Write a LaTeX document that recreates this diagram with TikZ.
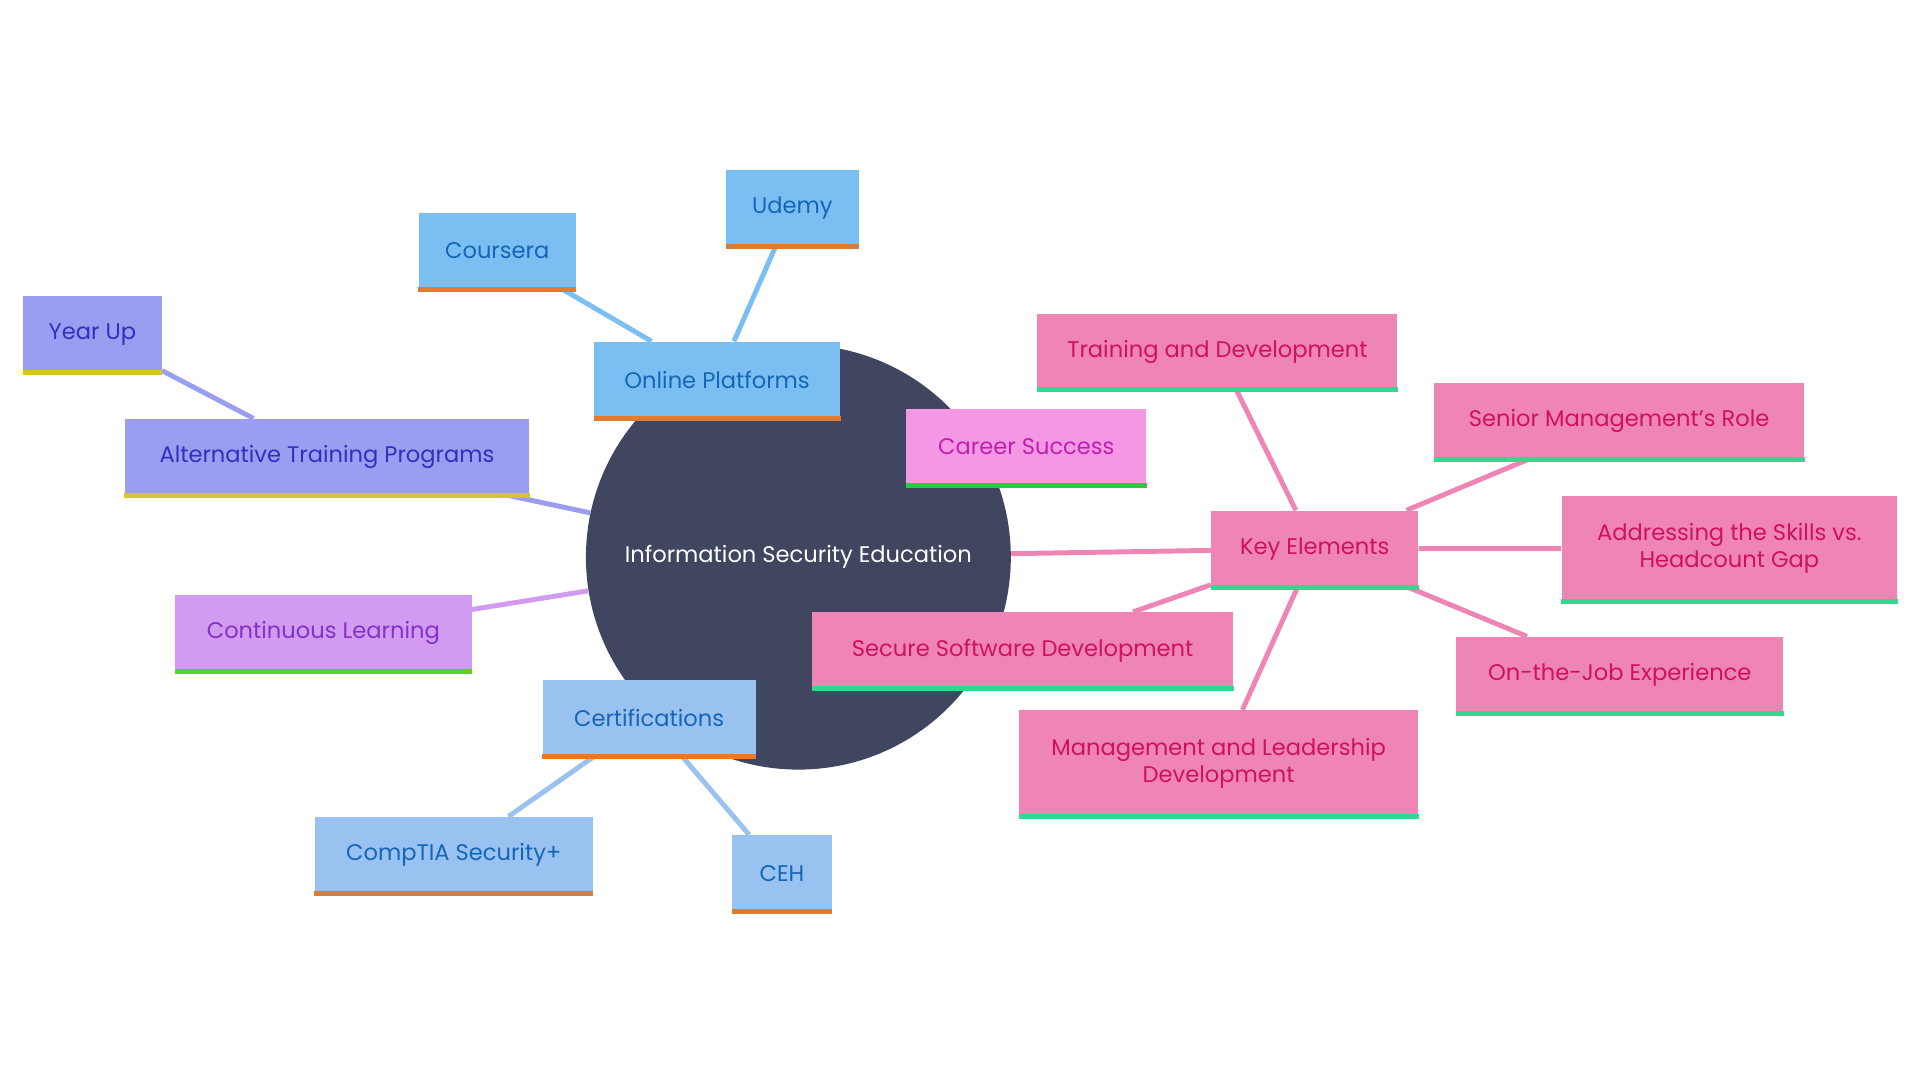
\documentclass[tikz,border=0pt]{standalone}
\usepackage{fontspec}
\setmainfont{Poppins}
\usetikzlibrary{backgrounds}
\definecolor{hub}{HTML}{404560}
\definecolor{opF}{HTML}{7BBFF2}\definecolor{opT}{HTML}{1565B8}\definecolor{orB}{HTML}{E07B30}
\definecolor{ceF}{HTML}{99C2F0}
\definecolor{alF}{HTML}{9B9EF0}\definecolor{alT}{HTML}{3030C0}\definecolor{alB}{HTML}{D4C820}
\definecolor{clF}{HTML}{D09BF0}\definecolor{clT}{HTML}{8530C8}\definecolor{clB}{HTML}{60D020}
\definecolor{csF}{HTML}{F497E4}\definecolor{csT}{HTML}{C020B0}\definecolor{csB}{HTML}{20D040}
\definecolor{keF}{HTML}{EE85B5}\definecolor{keT}{HTML}{D01060}\definecolor{keB}{HTML}{30D890}
\tikzset{
  box/.style n args={3}{fill=#1, text=#2, align=center, inner sep=0pt, font=\fontsize{10.5pt}{12.5pt}\selectfont,
    append after command={(\tikzlastnode.south west) edge[draw=#3, line width=2.3pt] (\tikzlastnode.south east)}},
  link/.style={line width=2.3pt}
}
\newcommand{\bx}[9]{\node[box={#6}{#7}{#8}, minimum width=#4*0.02cm, minimum height=#5*0.02cm] (#1) at (#2*0.02,-#3*0.02) {#9};}
\begin{document}
\begin{tikzpicture}
\useasboundingbox (0,0) rectangle (31.36,-17.64);
\node[circle, fill=hub, minimum size=6.94cm, text=white, font=\fontsize{10.5pt}{12.5pt}\selectfont] (c) at (13.04,-9.1) {Information Security Education};
\bx{op}{585.5}{310}{201}{62}{opF}{opT}{orB}{Online Platforms}
\bx{ud}{647}{170}{108}{62}{opF}{opT}{orB}{Udemy}
\bx{co}{406}{205}{128}{62}{opF}{opT}{orB}{Coursera}
\bx{yu}{75.5}{273}{113}{62}{alF}{alT}{alB}{Year Up}
\bx{al}{267}{373}{330}{62}{alF}{alT}{alB}{Alternative Training Programs}
\bx{cl}{264}{517}{242}{62}{clF}{clT}{clB}{Continuous Learning}
\bx{ce}{530}{586}{174}{62}{ceF}{opT}{orB}{Certifications}
\bx{ct}{370.5}{698}{227}{62}{ceF}{opT}{orB}{CompTIA Security+}
\bx{eh}{638.5}{713}{81}{62}{ceF}{opT}{orB}{CEH}
\bx{cs}{838}{365}{196}{62}{csF}{csT}{csB}{Career Success}
\bx{ke}{1073.5}{448}{169}{62}{keF}{keT}{keB}{Key Elements}
\bx{td}{994}{287}{294}{62}{keF}{keT}{keB}{Training and Development}
\bx{sm}{1322}{344}{302}{62}{keF}{keT}{keB}{Senior Management’s Role}
\bx{ad}{1412}{448}{274}{86}{keF}{keT}{keB}{Addressing the Skills vs.\\Headcount Gap}
\bx{oj}{1322.5}{551}{267}{62}{keF}{keT}{keB}{On-the-Job Experience}
\bx{mg}{995}{623}{326}{86}{keF}{keT}{keB}{Management and Leadership\\Development}
\bx{ss}{835}{531}{344}{62}{keF}{keT}{keB}{Secure Software Development}
\begin{scope}[on background layer]
\draw[link, opF] (c) -- (op) (op) -- (ud) (op) -- (co);
\draw[link, alF] (c) -- (al) (al) -- (yu);
\draw[link, clF] (c) -- (cl);
\draw[link, ceF] (c) -- (ce) (ce) -- (ct) (ce) -- (eh);
\draw[link, csF] (c) -- (cs);
\draw[link, keF] (c) -- (ke) (ke) -- (td) (ke) -- (sm) (ke) -- (ad) (ke) -- (oj) (ke) -- (mg) (ke) -- (ss);
\end{scope}
\end{tikzpicture}
\end{document}
